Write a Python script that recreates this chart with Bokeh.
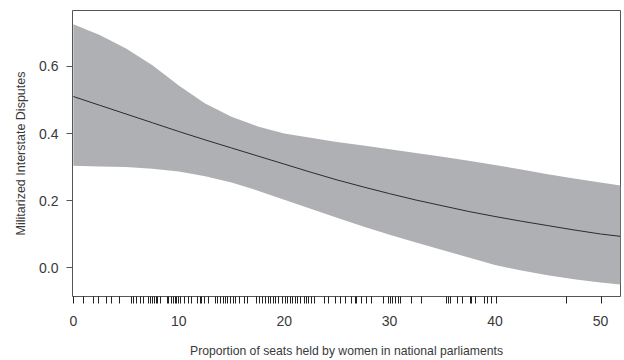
from bokeh.plotting import figure
from bokeh.models import FixedTicker, PrintfTickFormatter, Range1d
from bokeh.embed import file_html
from bokeh.resources import INLINE

# Predicted probability curve and 95% band
x_vals = [0, 2.5, 5, 7.5, 10, 12.5, 15, 17.5, 20, 22.5, 25, 27.5, 30, 32.5, 35, 37.5, 40, 42.5, 45, 47.5, 50, 51.9]
mean_vals = [0.510, 0.484, 0.458, 0.432, 0.406, 0.381, 0.357, 0.333, 0.309, 0.285, 0.262, 0.241, 0.221, 0.202, 0.185, 0.168, 0.153, 0.139, 0.126, 0.113, 0.101, 0.094]
upper_vals = [0.725, 0.693, 0.653, 0.603, 0.543, 0.489, 0.450, 0.421, 0.400, 0.387, 0.375, 0.364, 0.353, 0.342, 0.331, 0.319, 0.306, 0.293, 0.279, 0.266, 0.254, 0.245]
lower_vals = [0.304, 0.302, 0.300, 0.295, 0.287, 0.273, 0.254, 0.230, 0.203, 0.176, 0.149, 0.123, 0.099, 0.076, 0.053, 0.031, 0.009, -0.008, -0.022, -0.034, -0.043, -0.049]

# Rug: observed values of the proportion of seats held by women
rug_vals = [0.0, 1.0, 1.9, 2.4, 3.1, 3.6, 4.4, 5.5, 5.7, 6.0, 6.4, 6.7, 7.1, 7.3, 7.5, 7.7, 7.9, 8.0, 8.3,
            8.9, 9.0, 9.3, 9.5, 9.7, 9.8, 10.0, 10.2, 10.5, 10.9, 11.2, 11.8, 12.1, 12.2, 12.4, 12.8,
            13.5, 13.7, 14.0, 14.2, 14.4, 14.6, 14.9, 15.2, 15.4, 15.8, 16.2, 16.5,
            17.4, 17.7, 17.9, 18.2, 18.5, 18.7, 19.0, 19.2, 19.5, 19.8, 20.1, 20.3, 20.6, 20.8, 21.1,
            21.3, 21.5, 21.9, 22.1, 22.3, 22.6, 22.9, 23.8, 24.2, 24.9, 25.3, 25.8, 26.4,
            26.8, 26.9, 27.3, 27.8, 28.3, 29.4, 29.9, 30.1, 30.3, 30.6, 30.8, 31.0, 32.1, 33.0,
            35.4, 35.6, 35.8, 36.4, 36.9, 37.7, 37.8, 38.1, 39.0, 39.3, 39.7, 40.1, 46.8, 50.1]

x_ticks = [0, 10, 20, 30, 40, 50]
y_ticks = [0.0, 0.2, 0.4, 0.6]

TXT = "#3a3a3a"
FONT = "Liberation Sans"

p = figure(width=624, height=360, output_backend="svg", toolbar_location=None,
           x_range=Range1d(-0.08, 51.9), y_range=Range1d(-0.085, 0.766),
           min_border_left=72, min_border_right=4, min_border_top=10, min_border_bottom=60)

p.varea(x=x_vals, y1=lower_vals, y2=upper_vals, fill_color="#afb0b4", fill_alpha=1.0)
p.line(x=x_vals, y=mean_vals, line_color="#2b2b2b", line_width=1)

p.xgrid.visible = False
p.ygrid.visible = False
p.outline_line_color = "#555555"
p.outline_line_width = 1
p.background_fill_color = "white"
p.border_fill_color = "white"

xa = p.xaxis[0]
xa.ticker = FixedTicker(ticks=x_ticks, minor_ticks=rug_vals)
xa.axis_line_color = None
xa.major_tick_line_color = None
xa.major_tick_out = 7
xa.major_tick_in = 0
xa.minor_tick_out = 7
xa.minor_tick_in = 0
xa.minor_tick_line_color = "#222222"
xa.minor_tick_line_width = 1
xa.major_label_standoff = 12
xa.major_label_text_font = FONT
xa.major_label_text_font_size = "14px"
xa.major_label_text_color = TXT
xa.axis_label = "Proportion of seats held by women in national parliaments"
xa.axis_label_text_font = FONT
xa.axis_label_text_font_size = "12.2px"
xa.axis_label_text_font_style = "normal"
xa.axis_label_text_color = TXT
xa.axis_label_standoff = 15

ya = p.yaxis[0]
ya.ticker = FixedTicker(ticks=y_ticks, minor_ticks=[])
ya.formatter = PrintfTickFormatter(format="%.1f")
ya.axis_line_color = None
ya.major_tick_line_color = "#555555"
ya.major_tick_out = 6
ya.major_tick_in = 0
ya.minor_tick_line_color = None
ya.major_label_standoff = 8
ya.major_label_text_font = FONT
ya.major_label_text_font_size = "14px"
ya.major_label_text_color = TXT
ya.axis_label = "Militarized Interstate Disputes"
ya.axis_label_text_font = FONT
ya.axis_label_text_font_size = "12.5px"
ya.axis_label_text_font_style = "normal"
ya.axis_label_text_color = TXT
ya.axis_label_standoff = 8

open("out.html", "w").write(file_html(p, INLINE))
